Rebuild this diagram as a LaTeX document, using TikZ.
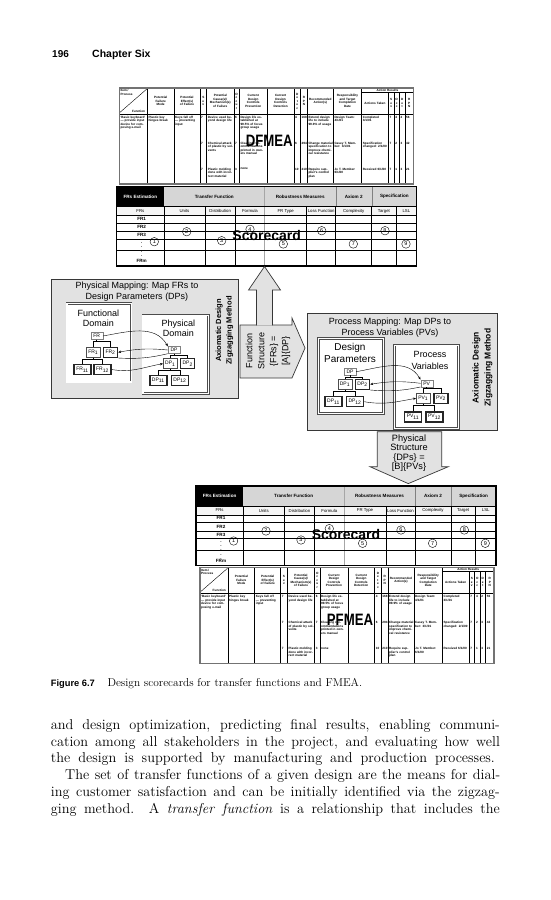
\documentclass[tikz,border=0pt]{standalone}
\usepackage{graphicx}
\usepackage{fontspec}
\setsansfont{Liberation Sans}
\usetikzlibrary{arrows.meta, positioning, calc}
\definecolor{mapfill}{RGB}{226,226,226}
\definecolor{hdrfill}{RGB}{214,214,214}
\definecolor{framecol}{RGB}{55,55,55}
\tikzset{
  fmhead/.style   = {inner sep=0pt, align=center, font=\fontsize{3.1}{3.5}\selectfont\sffamily\bfseries},
  fmcell/.style   = {inner sep=0pt, anchor=north west, align=left, font=\fontsize{3.1}{3.5}\selectfont\sffamily\bfseries},
  schead/.style   = {inner sep=0pt, align=center, font=\fontsize{4.6}{5}\selectfont\sffamily\bfseries},
  sccol/.style    = {inner sep=0pt, font=\fontsize{4.3}{5}\selectfont\sffamily},
  frlbl/.style    = {inner sep=0pt, font=\fontsize{4.6}{5}\selectfont\sffamily\bfseries},
  circnum/.style  = {circle, draw, inner sep=0pt, minimum size=8.5pt, font=\fontsize{5.5}{6}\selectfont\sffamily},
  bigtag/.style   = {inner sep=0pt, font=\fontsize{14}{14}\selectfont\sffamily\bfseries},
  mapbox/.style   = {draw=framecol, fill=mapfill, line width=0.8pt, inner sep=0pt},
  dombox/.style   = {draw=black!70, double=white, double distance=1.4pt, fill=white, line width=0.5pt, inner sep=0pt},
  maptext/.style  = {align=center, inner sep=0pt, font=\fontsize{9}{11}\selectfont\sffamily},
  zztext/.style   = {rotate=90, align=center, inner sep=0pt, font=\fontsize{7.5}{10.5}\selectfont\sffamily\bfseries},
  blockarrow/.style = {draw=framecol, fill=mapfill, line width=0.7pt, line join=miter},
  trroot/.style   = {draw=gray, fill=white, minimum width=12pt, minimum height=7pt, inner sep=0pt, font=\fontsize{5}{5}\selectfont\sffamily},
  trmid/.style    = {draw=black!70, fill=white, line width=0.6pt, minimum width=14pt, minimum height=10pt, inner sep=0pt, font=\fontsize{5}{5}\selectfont\sffamily},
  trleaf/.style   = {trmid, draw=black!85, line width=1.4pt, minimum width=17pt},
  treeline/.style = {line width=0.5pt},
  zz/.style       = {-{Stealth[length=3pt,width=2.4pt]}, line width=0.4pt},
  bodyline/.style = {anchor=base west, inner sep=0pt, font=\fontsize{14.3}{16.7}\selectfont},
}

% FMEA form, local frame 294 x 96
\newcommand{\fmeatable}[2]{%
  \draw[line width=0.5pt] (0,26) -- (294,26);
  \draw[line width=0.5pt] (242.4,4.3) -- (294,4.3);
  \foreach \cx in {28,54.7,80.7,87.4,114.7,120,148,174.7,181.4,188,214,242.4}
    \draw[line width=0.55pt] (\cx,0) -- (\cx,96);
  \foreach \cx in {269,274.7,280,285.7}
    \draw[line width=0.55pt] (\cx,4.3) -- (\cx,96);
  \draw[line width=0.4pt] (0.5,24.5) -- (27.5,1);
  \draw[line width=1.2pt, black!55] (0,0) rectangle (294,96);
  \node[fmhead, anchor=north west, align=left] (#1-item) at (1,1.5) {Item /\\Process};
  \node[fmhead, anchor=south east] (#1-func) at (26,24.5) {Function};
  \foreach \cx/\cy/\cw/\ct [count=\k] in {
      41.35/13/25/{Potential\\Failure\\Mode},
      67.7/13/24/{Potential\\Effect(s)\\of Failure},
      84/13/6/{S\\e\\v},
      101/13/26/{Potential\\Cause(s)/\\Mechanism(s)\\of Failure},
      117.3/13/5/{O\\c\\c\\u\\r},
      134/13/26/{Current\\Design\\Controls\\Prevention},
      161.3/13/25/{Current\\Design\\Controls\\Detection},
      178/13/6/{D\\e\\t\\e\\c},
      184.7/13/6/{R\\P\\N},
      201/13/25/{Recommended\\Action(s)},
      228.2/13/27/{Responsibility\\and Target\\Completion\\Date},
      255.7/15/25/{Actions Taken},
      271.85/15/5/{S\\e\\v},
      277.35/15/5/{O\\c\\c},
      282.85/15/5/{D\\e\\t},
      289.85/15/7/{R\\P\\N}}
    \node[fmhead, text width=\cw pt] (#1-h\k) at (\cx,\cy) {\ct};
  \node[fmhead] (#1-ar) at (268.2,2.2) {Action Results};
  \foreach \cx/\cy/\cw/\ct [count=\k] in {
      1/28/26/{`Basic keyboard' --- provide input device for composing e-mail},
      29/28/25/{Plastic key hinges break},
      55.7/28/24/{Keys fall off --- preventing input},
      81.7/28/5/7, 81.7/54/5/7, 81.7/80/5/7,
      88.4/28/25.5/{Device used beyond design life},
      88.4/54/25.5/{Chemical attack of plastic by solvents},
      88.4/80/25.5/{Plastic molding done with incorrect material},
      115.7/28/4/6, 115.7/54/4/7, 115.7/80/4/3,
      121/28/26/{Design life established at 99.5\% of focus group usage},
      121/54/26/{Cleaning recommendations printed in owners manual},
      121/80/26/{none},
      175.6/28/5/4, 175.6/54/5/6, 175.6/80/5/10,
      182.1/28/5.5/168, 182.1/54/5.5/294, 182.1/80/5.5/210,
      189/28/24.5/{Extend design life to include 99.9\% of usage},
      189/54/24.5/{Change material specification to improve chemical resistance},
      189/80/24.5/{Require supplier's control plan},
      215/28/26.5/{Design Team: 4/1/01},
      215/54/26.5/{Casey T. Member: 3/1/01},
      215/80/26.5/{Jo T. Member: 6/1/00},
      243.4/28/25/{Completed 3/1/01},
      243.4/54/25/{Specification changed: 2/1/00},
      243.4/80/25/{Received 6/1/00},
      270.2/28/4/7, 275.8/28/4/4, 281.1/28/4/2, 286.6/28/7/56,
      270.2/54/4/7, 275.8/54/4/2, 281.1/54/4/3, 286.6/54/7/42,
      270.2/80/4/7, 275.8/80/4/1, 281.1/80/4/3, 286.6/80/7/21}
    \node[fmcell, text width=\cw pt] (#1-c\k) at (\cx,\cy) {\ct};
  \node[bigtag] (#1-tag) at (150,53) {\scalebox{0.8}[1]{\fontsize{16.5}{16.5}\selectfont #2}};
}

% design scorecard, local frame 300 x 79.3
\newcommand{\scorecard}[1]{%
  \fill[black] (0,0) rectangle (47.3,20);
  \fill[hdrfill] (47.3,0) rectangle (300,20);
  \fill[gray!8] (0,20) rectangle (300,29);
  \foreach \cx in {47.3,88.3,118.6,190,219,255,279.3}
    \draw[line width=0.45pt] (\cx,20) -- (\cx,79.3);
  \foreach \cx in {219,255}
    \draw[gray, line width=0.4pt] (\cx,0) -- (\cx,20);
  \draw[gray!70, line width=1pt] (148,0) -- (148,79.3);
  \foreach \ry in {29,36.6,45,52.3,64}
    \draw[line width=0.45pt] (0,\ry) -- (300,\ry);
  \draw[line width=0.6pt] (0,20) -- (300,20);
  \draw[line width=1.2pt] (0,0) rectangle (300,79.3);
  \node[schead, text=white] (#1-est) at (23.65,10) {FRs Estimation};
  \node[schead] (#1-tf) at (97.65,10) {Transfer Function};
  \node[schead] (#1-rm) at (183.5,10) {Robustness Measures};
  \node[schead] (#1-ax) at (237,10) {Axiom 2};
  \node[schead] (#1-sp) at (277.65,10) {Specification};
  \foreach \cx/\ct [count=\k] in {23.65/FRs, 67.8/Units, 103.5/Distribution, 133.3/Formula,
      169/FR Type, 204.5/Loss Function, 237/Complexity, 267.2/Target, 289.7/LSL}
    \node[sccol] (#1-col\k) at (\cx,24.5) {\ct};
  \foreach \ry/\ct [count=\k] in {32.3/FR1, 40.5/FR2, 48.5/FR3, 57/{$\vdots$}, 66/{$\vdots$}, 74.5/FRm}
    \node[frlbl] (#1-fr\k) at (25,\ry) {\ct};
  \foreach \cx/\ry [count=\k] in {37.6/55, 70/45, 105/54, 133.3/42.6, 166.6/57.3,
      205/44, 236.6/57.3, 268.3/44, 289.3/57.3}
    \node[circnum] (#1-n\k) at (\cx,\ry) {\k};
  \node[bigtag] (#1-tag) at (150,48.3) {Scorecard};
}

\begin{document}
\begin{tikzpicture}[x=1pt, y=-1pt]
\useasboundingbox (0,0) rectangle (550,900);
\fill[white] (0,0) rectangle (550,900);

% running head
\node[anchor=base west, inner sep=0pt, font=\fontsize{10}{12}\selectfont\sffamily\bfseries] (pgnum) at (52,57.5) {196};
\node[anchor=base west, inner sep=0pt, font=\fontsize{10.5}{12}\selectfont\sffamily\bfseries] (chapname) at (92,57.5) {Chapter Six};

% DFMEA and upper scorecard
\begin{scope}[shift={(119.3,88)}]
  \fmeatable{d}{DFMEA}
\end{scope}
\begin{scope}[shift={(116.7,186.7)}]
  \scorecard{t}
\end{scope}

% physical mapping
\node[mapbox, anchor=north west, minimum width=187.6pt, minimum height=118.7pt] (physmap) at (50.7,279) {};
\node[maptext, anchor=north] (physmaptitle) at (137,281.3) {Physical Mapping: Map FRs to\\Design Parameters (DPs)};
\node[zztext] (physzz) at (224.5,330.5) {Axiomatic Design\\Zigzagging Method};
\node[dombox, anchor=north west, minimum width=64.3pt, minimum height=78.4pt] (funcdom) at (66.7,303.3) {};
\node[maptext, anchor=north, font=\fontsize{9}{10.5}\selectfont\sffamily] (funcdomlbl) at (98.3,309.5) {Functional\\Domain};
\node[dombox, anchor=north west, minimum width=65.6pt, minimum height=78.3pt] (physdom) at (142.7,315) {};
\node[maptext, anchor=north, font=\fontsize{9}{10}\selectfont\sffamily] (physdomlbl) at (178.3,319.6) {Physical\\Domain};

\node[trroot] (fr) at (96.7,336) {FR};
\node[trmid] (fr1) at (93.3,352.3) {FR\textsubscript{1}};
\node[trleaf, minimum width=14pt] (fr2) at (110.5,352.3) {FR\textsubscript{2}};
\node[trleaf] (fr11) at (82.5,369.5) {FR\textsubscript{11}};
\node[trleaf] (fr12) at (102.5,369.5) {FR\textsubscript{12}};
\draw[treeline] (fr.south) -- ++(0,1.6) -| (fr1.north);
\draw[treeline] (fr.south) -- ++(0,1.6) -| (fr2.north);
\draw[treeline] (fr1.south) -- ++(0,1.6) -| (fr11.north);
\draw[treeline] (fr1.south) -- ++(0,1.6) -| (fr12.north);

\node[trroot] (dp) at (174,350) {DP};
\node[trmid] (dp1) at (170.3,363.7) {DP\textsubscript{1}};
\node[trleaf, minimum width=14pt] (dp2) at (187.7,363.7) {DP\textsubscript{2}};
\node[trleaf] (dp11) at (158.3,380.3) {DP\textsubscript{11}};
\node[trleaf] (dp12) at (180,380.3) {DP\textsubscript{12}};
\draw[treeline] (dp.south) -- ++(0,1.6) -| (dp1.north);
\draw[treeline] (dp.south) -- ++(0,1.6) -| (dp2.north);
\draw[treeline] (dp1.south) -- ++(0,1.6) -| (dp11.north);
\draw[treeline] (dp1.south) -- ++(0,1.6) -| (dp12.north);

\draw[zz] (fr.east) to[out=10, in=120] (dp.north west);
\draw[zz] (dp.west) to[bend right=8] (fr2.east);
\draw[line width=0.4pt] (fr2.south east) to[bend right=8] (dp.south west);
\draw[zz] (fr12.east) to[out=-10, in=190] (dp1.west);

% function structure arrows
\draw[blockarrow] (240,325) -- (292,325) -- (292,318) -- (305,348) -- (292,378) -- (240,378) -- cycle;
\draw[blockarrow] (256.5,325.4) -- (256.5,290) -- (248.5,290) -- (264.5,266.5) -- (280.5,290) -- (272.5,290) -- (272.5,325.4);
\node[maptext, rotate=90, font=\fontsize{9}{12}\selectfont\sffamily] (fstext) at (268,351) {Function\\Structure\\\{FRs\} =\\{}[A]\{DP\}};

% process mapping
\node[mapbox, anchor=north west, minimum width=190.6pt, minimum height=116.7pt] (procmap) at (306.7,313.3) {};
\node[maptext, anchor=north] (procmaptitle) at (390,318) {Process Mapping: Map DPs to\\Process Variables (PVs)};
\node[zztext, font=\fontsize{8.5}{12}\selectfont\sffamily\bfseries] (proczz) at (482.5,367.5) {Axiomatic Design\\Zigzagging Method};
\node[dombox, anchor=north west, minimum width=65pt, minimum height=75pt] (dpdom) at (318.3,338.3) {};
\node[maptext, anchor=north, font=\fontsize{10}{12}\selectfont\sffamily] (dpdomlbl) at (350,343.3) {Design\\Parameters};
\node[dombox, anchor=north west, minimum width=64pt, minimum height=83.3pt] (pvdom) at (394.3,345) {};
\node[maptext, anchor=north, font=\fontsize{9}{11.7}\selectfont\sffamily] (pvdomlbl) at (430,351.4) {Process\\Variables};

\node[trroot] (rdp) at (350,371.7) {DP};
\node[trmid] (rdp1) at (345,384.3) {DP\textsubscript{1}};
\node[trleaf, minimum width=14pt] (rdp2) at (362.5,384.3) {DP\textsubscript{2}};
\node[trleaf] (rdp11) at (333.5,401.7) {DP\textsubscript{11}};
\node[trleaf] (rdp12) at (355,401.7) {DP\textsubscript{12}};
\draw[treeline] (rdp.south) -- ++(0,1.6) -| (rdp1.north);
\draw[treeline] (rdp.south) -- ++(0,1.6) -| (rdp2.north);
\draw[treeline] (rdp1.south) -- ++(0,1.6) -| (rdp11.north);
\draw[treeline] (rdp1.south) -- ++(0,1.6) -| (rdp12.north);

\node[trroot] (pv) at (426.7,383.3) {PV};
\node[trmid] (pv1) at (423.3,398.3) {PV\textsubscript{1}};
\node[trleaf, minimum width=14pt] (pv2) at (441,398.3) {PV\textsubscript{2}};
\node[trleaf] (pv11) at (413,417) {PV\textsubscript{11}};
\node[trleaf] (pv12) at (434.5,417) {PV\textsubscript{12}};
\draw[treeline] (pv.south) -- ++(0,1.6) -| (pv1.north);
\draw[treeline] (pv.south) -- ++(0,1.6) -| (pv2.north);
\draw[treeline] (pv1.south) -- ++(0,1.6) -| (pv11.north);
\draw[treeline] (pv1.south) -- ++(0,1.6) -| (pv12.north);

\draw[zz] (rdp.east) to[out=10, in=120] (pv.north west);
\draw[zz] (pv.west) to[bend right=8] (rdp2.east);
\draw[line width=0.4pt] (rdp2.south east) to[bend right=8] (pv.south west);
\draw[zz] (rdp12.east) to[out=-10, in=190] (pv1.west);

% physical structure arrow
\draw[blockarrow] (377.3,431.7) -- (441.7,431.7) -- (441.7,466.7) -- (448.3,466.7) -- (408.3,483.6) -- (370,466.7) -- (377.3,466.7) -- cycle;
\node[maptext, font=\fontsize{9.2}{9.4}\selectfont\sffamily] (pstext) at (409,453.3) {Physical\\Structure\\\{DPs\} =\\{}[B]\{PVs\}};

% lower scorecard and PFMEA
\begin{scope}[shift={(196,486)}]
  \scorecard{b}
\end{scope}
\begin{scope}[shift={(200,567.3)}]
  \fmeatable{p}{PFMEA}
\end{scope}

% caption
\node[anchor=base west, inner sep=0pt, font=\fontsize{9.3}{11}\selectfont\sffamily\bfseries] (figlbl) at (50.7,686) {Figure 6.7};
\node[anchor=base west, inner sep=0pt, font=\fontsize{11.4}{12}\selectfont] (figcap) at (107.3,686) {Design scorecards for transfer functions and FMEA.};

% running text
\node[bodyline] (line1) at (50.7,729.5) {\makebox[449pt][s]{and design optimization, predicting final results, enabling communi-}};
\node[bodyline] (line2) at (50.7,746.2) {\makebox[449pt][s]{cation among all stakeholders in the project, and evaluating how well}};
\node[bodyline] (line3) at (50.7,762.9) {\makebox[444pt][s]{the design is supported by manufacturing and production processes.}};
\node[bodyline] (line4) at (65,779.6) {\makebox[435pt][s]{The set of transfer functions of a given design are the means for dial-}};
\node[bodyline] (line5) at (50.7,796.3) {\makebox[449pt][s]{ing customer satisfaction and can be initially identified via the zigzag-}};
\node[bodyline] (line6) at (50.7,813) {\makebox[449pt][s]{ging method. A \textit{transfer function} is a relationship that includes the}};
\end{tikzpicture}
\end{document}
